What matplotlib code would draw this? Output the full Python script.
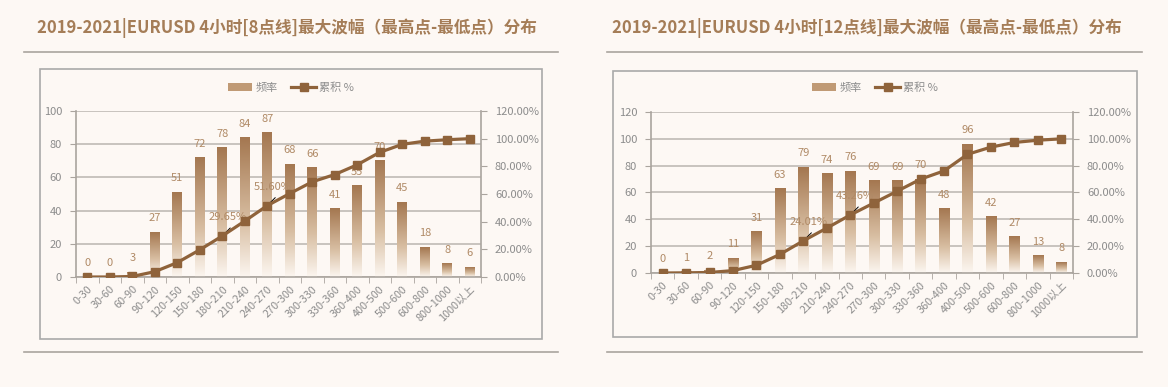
import numpy as np
import matplotlib
matplotlib.use('Agg')
import matplotlib.pyplot as plt
from matplotlib.colors import LinearSegmentedColormap
from matplotlib.patches import Rectangle, Patch
from matplotlib.lines import Line2D
from matplotlib.ticker import FuncFormatter, MultipleLocator, FixedLocator

plt.rcParams['font.family'] = ['Noto Sans CJK SC', 'DejaVu Sans']

# ---- data ----
categories = ['0-30', '30-60', '60-90', '90-120', '120-150', '150-180', '180-210',
              '210-240', '240-270', '270-300', '300-330', '330-360', '360-400',
              '400-500', '500-600', '600-800', '800-1000', '1000以上']

freq_8 = [0, 0, 3, 27, 51, 72, 78, 84, 87, 68, 66, 41, 55, 70, 45, 18, 8, 6]
cum_8 = [0.0, 0.0, 0.39, 3.85, 10.40, 19.64, 29.65, 40.44, 51.60, 60.33,
         68.81, 74.07, 81.13, 90.12, 95.89, 98.20, 99.23, 100.0]

freq_12 = [0, 1, 2, 11, 31, 63, 79, 74, 76, 69, 69, 70, 48, 96, 42, 27, 13, 8]
cum_12 = [0.0, 0.13, 0.39, 1.80, 5.78, 13.86, 24.01, 33.50, 43.26, 52.12,
          60.98, 69.96, 76.12, 88.45, 93.84, 97.30, 98.97, 100.0]

title_8 = '2019-2021|EURUSD 4小时[8点线]最大波幅（最高点-最低点）分布'
title_12 = '2019-2021|EURUSD 4小时[12点线]最大波幅（最高点-最低点）分布'
labelled_8 = [6, 8]    # points that carry a % label
labelled_12 = [6, 8]

W, H = 1168, 387
BG = '#fdf8f4'
GRAY = '#8c8c8c'
LINEGRAY = '#aaa49e'
BROWN = '#8f633b'
LABEL = '#b08a66'
TITLE = '#a57d57'

cmap = LinearSegmentedColormap.from_list(
    'bar', [(0, '#fcf6f0'), (0.4, '#d8bea2'), (1, '#a47750')])

fig = plt.figure(figsize=(W / 100, H / 100), dpi=100, facecolor=BG)


def fx(px):
    return px / W


def fy(py):
    return 1 - py / H


def rect(x0, y0, x1, y1):
    return [fx(x0), fy(y1), fx(x1) - fx(x0), fy(y0) - fy(y1)]


def panel(title, tx, line_x, box, area, freq, cum, ymax, labelled):
    # title + separator lines
    fig.text(fx(tx), fy(28), title, ha='center', va='center', fontsize=12,
             fontweight='bold', color=TITLE)
    for yy in (52, 352):
        fig.add_artist(Line2D([fx(line_x[0]), fx(line_x[1])], [fy(yy), fy(yy)],
                              color=LINEGRAY, lw=1.2))
    # chart border
    bx = rect(*box)
    fig.add_artist(Rectangle((bx[0], bx[1]), bx[2], bx[3], transform=fig.transFigure,
                             fill=False, edgecolor='#a9a9a9', lw=1.2))

    ax = fig.add_axes(rect(*area))
    ax.set_facecolor('none')
    x = np.arange(len(categories))
    w = 0.44
    grad = np.linspace(0, 1, 256).reshape(-1, 1)
    for xi, v in zip(x, freq):
        if v > 0:
            ax.imshow(grad, extent=(xi - w / 2, xi + w / 2, 0, v), origin='lower',
                      cmap=cmap, aspect='auto', zorder=2)
        ax.annotate(str(v), (xi, v), xytext=(0, 10), textcoords='offset points',
                    ha='center', va='center', fontsize=8, color=LABEL, zorder=3)
    ax.set_xlim(-0.5, len(categories) - 0.5)
    ax.set_ylim(0, ymax)
    ax.yaxis.set_major_locator(MultipleLocator(20))
    ax.yaxis.grid(True, color='#c4bfba', lw=1.3)
    ax.set_axisbelow(True)
    ax.set_xticks(x)
    ax.set_xticklabels(categories, rotation=45, ha='right', rotation_mode='anchor',
                       fontsize=7.8, color=GRAY)
    ax.xaxis.set_minor_locator(FixedLocator(np.arange(-0.5, len(categories), 1)))
    ax.tick_params(axis='x', which='major', length=0, pad=5)
    ax.tick_params(axis='x', which='minor', length=4, color=LINEGRAY)
    ax.tick_params(axis='y', length=4, color=LINEGRAY, labelsize=8, labelcolor=GRAY, pad=6)
    for s in ('top', 'right'):
        ax.spines[s].set_visible(False)
    for s in ('left', 'bottom'):
        ax.spines[s].set_color(LINEGRAY)
        ax.spines[s].set_linewidth(1.2)

    ax2 = ax.twinx()
    ax2.plot(x, np.array(cum) / 100, color=BROWN, lw=2.3, marker='s', ms=5.5, zorder=4)
    ax2.set_ylim(0, 1.2)
    ax2.yaxis.set_major_locator(MultipleLocator(0.2))
    ax2.yaxis.set_major_formatter(FuncFormatter(lambda v, p: '%.2f%%' % (v * 100)))
    ax2.tick_params(axis='y', length=4, color=LINEGRAY, labelsize=8, labelcolor=GRAY, pad=6)
    for s in ('top', 'left', 'bottom'):
        ax2.spines[s].set_visible(False)
    ax2.spines['right'].set_color(LINEGRAY)
    ax2.spines['right'].set_linewidth(1.2)
    for i in labelled:
        c = cum[i] / 100
        ax2.annotate('', (i, c), xytext=(8, 8), textcoords='offset pixels',
                     arrowprops=dict(arrowstyle='-', color='k', lw=0.7,
                                     shrinkA=0, shrinkB=1))
        ax2.annotate('%.2f%%' % cum[i], (i, c), xytext=(5, 19), textcoords='offset pixels',
                     ha='center', va='center', fontsize=8, color=LABEL)

    handles = [Patch(facecolor='#c09a75', edgecolor='none'),
               Line2D([], [], color=BROWN, lw=2.3, marker='s', ms=5.5)]
    cx = (box[0] + box[2]) / 2
    fig.legend(handles, ['频率', '累积 %'], loc='center', bbox_to_anchor=(fx(cx), fy(88)),
               ncol=2, frameon=False, fontsize=8, labelcolor=GRAY,
               handlelength=2.2, handletextpad=0.3, columnspacing=1.2)


panel(title_8, 287, (24, 558), (40, 69, 542, 339), (76, 111, 481, 277),
      freq_8, cum_8, 100, labelled_8)
panel(title_12, 867, (607, 1142), (613, 71, 1137, 337), (651, 112, 1073, 273),
      freq_12, cum_12, 120, labelled_12)

fig.savefig('out.png', dpi=100, facecolor=BG)
